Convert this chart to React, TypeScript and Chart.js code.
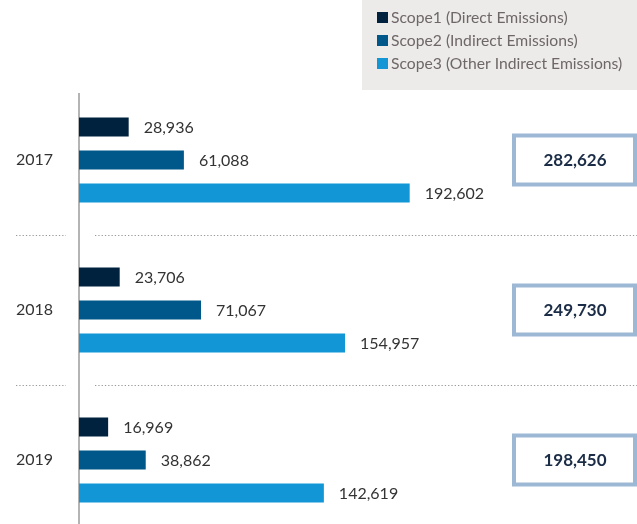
import React, { useEffect, useRef } from "react";
import { Chart, registerables } from "chart.js";

Chart.register(...registerables);

const years = ["2017", "2018", "2019"];
const scope1 = [28936, 23706, 16969];
const scope2 = [61088, 71067, 38862];
const scope3 = [192602, 154957, 142619];
const seriesLabels = [
  "Scope1 (Direct Emissions)",
  "Scope2 (Indirect Emissions)",
  "Scope3 (Other Indirect Emissions)",
];
const seriesColors = ["#01223F", "#00578A", "#1396D5"];

const FONT = "Lato, 'Noto Sans', sans-serif";
const fmt = (v: number) => v.toLocaleString("en-US");

const decorPlugin = {
  id: "decor",
  beforeDatasetsDraw(chart: any) {
    const { ctx, chartArea } = chart;
    ctx.save();
    ctx.strokeStyle = "#B4B4B4";
    ctx.lineWidth = 2;
    ctx.beginPath();
    ctx.moveTo(chartArea.left, chartArea.top + 8);
    ctx.lineTo(chartArea.left, chart.height);
    ctx.stroke();

    const yScale = chart.scales.y;
    ctx.strokeStyle = "#9A9A9A";
    ctx.lineWidth = 1;
    ctx.setLineDash([1.3, 2]);
    for (let i = 0; i < years.length - 1; i++) {
      const y = Math.round((yScale.getPixelForValue(i) + yScale.getPixelForValue(i + 1)) / 2) + 0.5;
      ctx.beginPath();
      ctx.moveTo(16, y);
      ctx.lineTo(66, y);
      ctx.moveTo(95, y);
      ctx.lineTo(chart.width, y);
      ctx.stroke();
    }
    ctx.restore();
  },
  afterDraw(chart: any) {
    const { ctx } = chart;
    ctx.save();
    ctx.font = `16px ${FONT}`;
    ctx.fillStyle = "#333333";
    ctx.textBaseline = "middle";
    ctx.textAlign = "left";
    chart.data.datasets.forEach((ds: any, di: number) => {
      const meta = chart.getDatasetMeta(di);
      meta.data.forEach((bar: any, i: number) => {
        ctx.fillText(fmt(ds.data[i]), bar.x + 15, bar.y + 1);
      });
    });

    const yScale = chart.scales.y;
    const right = chart.width;
    years.forEach((_, i) => {
      const total = scope1[i] + scope2[i] + scope3[i];
      const cy = yScale.getPixelForValue(i);
      ctx.fillStyle = "#FFFFFF";
      ctx.fillRect(right - 125, cy - 26.5, 125, 53);
      ctx.strokeStyle = "#9CB8D5";
      ctx.lineWidth = 4;
      ctx.strokeRect(right - 123, cy - 24.5, 121, 49);
      ctx.fillStyle = "#1B2C46";
      ctx.font = `bold 17px ${FONT}`;
      ctx.textAlign = "center";
      ctx.fillText(fmt(total), right - 62, cy + 1);
    });

    ctx.fillStyle = "#ECEBE9";
    ctx.fillRect(362, 0, chart.width - 362, 90);
    ctx.font = `15.7px ${FONT}`;
    ctx.textAlign = "left";
    seriesLabels.forEach((lab, i) => {
      const y = 18 + i * 23;
      ctx.fillStyle = seriesColors[i];
      ctx.fillRect(377, y - 6, 11, 11);
      ctx.fillStyle = "#6E6767";
      ctx.fillText(lab, 391, y);
    });
    ctx.restore();
  },
};

export default function App() {
  const ref = useRef<HTMLCanvasElement>(null);
  useEffect(() => {
    document.body.style.margin = "0";
    const chart = new Chart(ref.current!, {
      type: "bar",
      data: {
        labels: years,
        datasets: [scope1, scope2, scope3].map((d, i) => ({
          label: seriesLabels[i],
          data: d,
          backgroundColor: seriesColors[i],
          categoryPercentage: 0.66,
          barPercentage: 0.576,
          borderWidth: 0,
        })),
      },
      options: {
        indexAxis: "y",
        responsive: false,
        animation: false,
        layout: { padding: { top: 85, left: 0, right: 0, bottom: 0 } },
        plugins: { legend: { display: false }, tooltip: { enabled: false } },
        scales: {
          x: { display: false, min: 0, max: 325000 },
          y: {
            grid: { display: false, drawTicks: false },
            border: { display: false },
            ticks: { color: "#333333", font: { family: FONT, size: 16 }, padding: 26 },
            afterFit(scale: any) {
              scale.width = 79;
              scale.paddingTop = 0;
              scale.paddingBottom = 0;
            },
          },
        },
      },
      plugins: [decorPlugin],
    } as any);
    return () => chart.destroy();
  }, []);
  return (
    <div style={{ position: "relative", width: 637, height: 524, overflow: "hidden" }}>
      <canvas ref={ref} width={637} height={535} style={{ display: "block" }} />
    </div>
  );
}
